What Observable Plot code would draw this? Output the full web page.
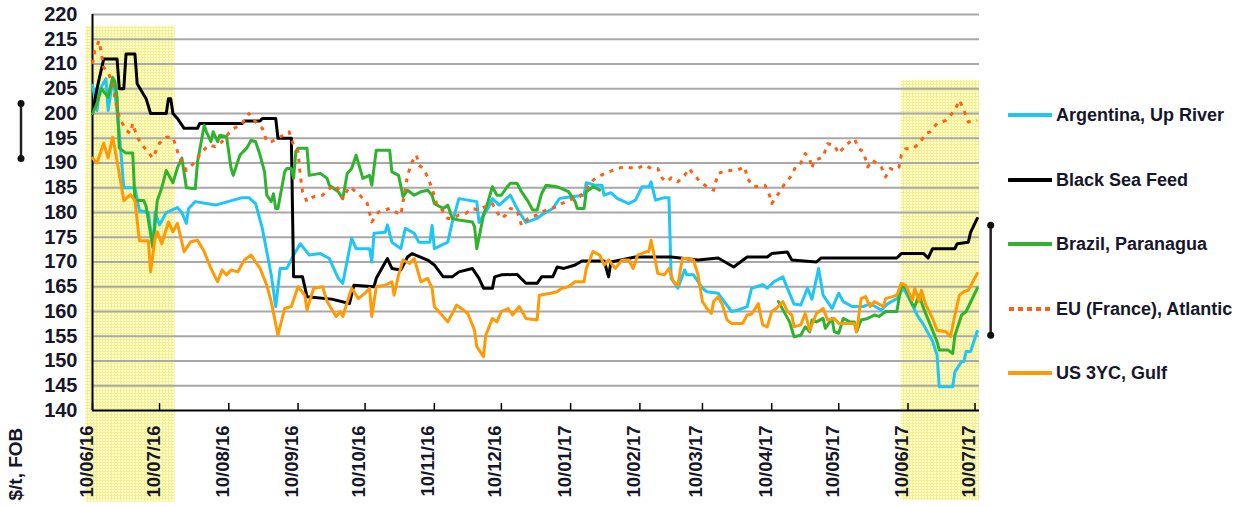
<!DOCTYPE html>
<html><head><meta charset="utf-8">
<script src="https://cdn.jsdelivr.net/npm/d3@7"></script>
<script src="https://cdn.jsdelivr.net/npm/@observablehq/plot@0.6"></script>
<style>
body{margin:0;background:#fff;font-family:"Liberation Sans",Arial,sans-serif;}
#wrap{position:relative;width:1245px;height:506px;overflow:hidden;}
.leg{position:absolute;left:1008px;height:20px;display:flex;align-items:center;font-weight:bold;font-size:18px;color:#16162a;white-space:nowrap;}
.leg svg{margin-right:4px;display:block;}
</style></head><body><div id="wrap"></div>
<script>
// ---------- DATA ----------
const seriesNames = ["Argentina, Up River","Black Sea Feed","Brazil, Paranagua","EU (France), Atlantic","US 3YC, Gulf"];
const seriesColors = ["#1ec6f5","#000000","#2fb32f","#ff5f12","#ff9a05"];
const seriesDash = [null,null,null,"4 6",null];

const argentina = [["2016-06-10",205.7],["2016-06-12",200.6],["2016-06-13",204.6],["2016-06-16",207],["2016-06-17",200.6],["2016-06-19",206.7],["2016-06-20",204.6],["2016-06-22",196],["2016-06-24",185],["2016-06-29",185],["2016-07-01",180.4],["2016-07-05",180],["2016-07-07",173],["2016-07-08",180],["2016-07-10",177.5],["2016-07-13",180],["2016-07-18",181],["2016-07-20",180],["2016-07-22",177.8],["2016-07-23",180.8],["2016-07-26",182.2],["2016-08-04",181.5],["2016-08-16",183],["2016-08-19",183],["2016-08-22",181.8],["2016-08-25",176.8],["2016-08-29",167.4],["2016-08-31",161],["2016-09-02",168.7],["2016-09-05",168.7],["2016-09-08",171.4],["2016-09-11",173.7],["2016-09-15",171.4],["2016-09-20",171.7],["2016-09-24",170.7],["2016-09-28",166.7],["2016-09-30",165.7],["2016-10-04",174.8],["2016-10-06",172.7],["2016-10-12",172.7],["2016-10-13",170],["2016-10-14",175.8],["2016-10-19",176],["2016-10-20",177.5],["2016-10-22",174],["2016-10-26",172.7],["2016-10-28",176.8],["2016-11-01",175.8],["2016-11-03",174],["2016-11-08",174],["2016-11-09",177.4],["2016-11-10",172.7],["2016-11-16",174],["2016-11-18",178],["2016-11-21",182.8],["2016-11-29",182.2],["2016-11-30",178],["2016-12-04",180.8],["2016-12-06",182.8],["2016-12-09",181.5],["2016-12-14",183.5],["2016-12-17",180.8],["2016-12-21",178],["2016-12-26",178.8],["2016-12-28",179.5],["2017-01-02",180.8],["2017-01-05",182.8],["2017-01-07",183],["2017-01-16",183.5],["2017-01-17",186],["2017-01-21",185.5],["2017-01-24",185.5],["2017-01-25",183.5],["2017-01-28",184],["2017-01-31",182.8],["2017-02-05",181.8],["2017-02-08",182.5],["2017-02-11",185.2],["2017-02-14",185.2],["2017-02-15",186.2],["2017-02-17",182.5],["2017-02-21",183],["2017-02-23",183],["2017-02-24",166.7],["2017-02-27",164.7],["2017-03-02",168.4],["2017-03-03",167.4],["2017-03-06",167.4],["2017-03-10",164.7],["2017-03-12",164],["2017-03-17",163.7],["2017-03-23",160],["2017-03-26",160.3],["2017-03-30",161],["2017-04-01",164.7],["2017-04-06",165.4],["2017-04-08",164.7],["2017-04-11",166],["2017-04-15",167],["2017-04-17",164.7],["2017-04-20",161.5],["2017-04-23",161.3],["2017-04-26",164.7],["2017-04-28",162.5],["2017-05-01",168.7],["2017-05-03",163.3],["2017-05-07",160.6],["2017-05-10",163.7],["2017-05-12",162],["2017-05-16",161],["2017-05-21",161],["2017-05-24",161.6],["2017-05-29",160.3],["2017-06-01",161.6],["2017-06-05",162.6],["2017-06-08",164.7],["2017-06-12",161.3],["2017-06-14",159.3],["2017-06-17",157.3],["2017-06-21",154],["2017-06-23",151.2],["2017-06-24",144.8],["2017-06-30",144.8],["2017-07-01",147.8],["2017-07-04",149.9],["2017-07-05",149.9],["2017-07-06",151.9],["2017-07-08",151.9],["2017-07-11",156]];

const blackSea = [["2016-06-10",200],["2016-06-12",205],["2016-06-15",211],["2016-06-21",211],["2016-06-22",205],["2016-06-24",205],["2016-06-25",212],["2016-06-29",212],["2016-06-30",206],["2016-07-04",203],["2016-07-06",200],["2016-07-13",200],["2016-07-14",203],["2016-07-15",203],["2016-07-16",200],["2016-07-18",199],["2016-07-21",197],["2016-07-27",197],["2016-07-28",198],["2016-08-16",198],["2016-08-17",198.5],["2016-08-24",198.5],["2016-08-25",199],["2016-08-31",199],["2016-09-01",195],["2016-09-07",195],["2016-09-08",167],["2016-09-12",167],["2016-09-14",163],["2016-09-25",162.5],["2016-10-03",161.6],["2016-10-05",165.3],["2016-10-14",165],["2016-10-15",166.7],["2016-10-20",170.7],["2016-10-22",168.7],["2016-10-26",168.4],["2016-10-29",171],["2016-10-31",171.7],["2016-11-07",170.4],["2016-11-10",169.4],["2016-11-14",167],["2016-11-18",167],["2016-11-21",168],["2016-11-27",168.7],["2016-11-30",166.7],["2016-12-02",164.7],["2016-12-06",164.7],["2016-12-07",167],["2016-12-10",167.4],["2016-12-17",167.5],["2016-12-21",165.7],["2016-12-26",165.7],["2016-12-28",167],["2017-01-02",167],["2017-01-04",169],["2017-01-07",168.7],["2017-01-12",169.4],["2017-01-15",170.2],["2017-01-25",170.2],["2017-01-27",167],["2017-01-28",170],["2017-02-08",171],["2017-02-24",171],["2017-03-08",170.4],["2017-03-17",170.8],["2017-03-24",169],["2017-03-27",170],["2017-03-30",171],["2017-04-08",171],["2017-04-10",171.7],["2017-04-17",172],["2017-04-19",170.4],["2017-04-30",170],["2017-05-02",170.8],["2017-06-05",170.8],["2017-06-07",171.7],["2017-06-17",171.7],["2017-06-19",170.8],["2017-06-21",172.7],["2017-07-01",172.7],["2017-07-02",173.7],["2017-07-07",174],["2017-07-08",176],["2017-07-11",178.8]];

const brazil = [["2016-06-10",200],["2016-06-12",202],["2016-06-14",205],["2016-06-17",203.3],["2016-06-19",207.3],["2016-06-20",206.5],["2016-06-21",203.3],["2016-06-22",193],["2016-06-25",192],["2016-06-28",192],["2016-06-29",182.4],["2016-07-03",182.4],["2016-07-04",181.2],["2016-07-07",173],["2016-07-09",182.4],["2016-07-11",185],["2016-07-13",188.5],["2016-07-16",186],["2016-07-18",189],["2016-07-20",191],["2016-07-22",185],["2016-07-26",184.8],["2016-07-27",190.2],["2016-07-30",197.6],["2016-07-31",196.3],["2016-08-02",194.3],["2016-08-03",196.3],["2016-08-05",194.3],["2016-08-06",195.6],["2016-08-09",195.3],["2016-08-11",189],["2016-08-12",187.5],["2016-08-15",191.6],["2016-08-18",193],["2016-08-20",194.6],["2016-08-22",194.3],["2016-08-24",191.6],["2016-08-26",188.2],["2016-08-27",183.5],["2016-08-29",182.2],["2016-08-30",183.8],["2016-08-31",180.8],["2016-09-01",180.8],["2016-09-04",188.2],["2016-09-05",188.9],["2016-09-07",188.9],["2016-09-08",186.9],["2016-09-09",192.3],["2016-09-10",193],["2016-09-14",193],["2016-09-15",187.5],["2016-09-20",187.9],["2016-09-23",186.9],["2016-09-24",185.5],["2016-09-28",184.2],["2016-09-30",182.8],["2016-10-02",187.9],["2016-10-04",188.9],["2016-10-06",191.6],["2016-10-09",186.9],["2016-10-12",187.5],["2016-10-13",185.5],["2016-10-15",192.6],["2016-10-21",192.6],["2016-10-22",188.2],["2016-10-25",187.5],["2016-10-27",183.2],["2016-10-29",184.5],["2016-11-01",183.5],["2016-11-04",184.2],["2016-11-07",184.5],["2016-11-09",183.5],["2016-11-10",181.8],["2016-11-14",180.8],["2016-11-16",181.5],["2016-11-18",178.8],["2016-11-21",178.5],["2016-11-27",178.1],["2016-11-28",177.1],["2016-11-29",172.7],["2016-12-02",179.5],["2016-12-04",182.2],["2016-12-06",185.2],["2016-12-08",183.5],["2016-12-10",183.5],["2016-12-12",184.8],["2016-12-14",185.9],["2016-12-17",185.9],["2016-12-19",184.2],["2016-12-22",182.2],["2016-12-24",180.5],["2016-12-26",180.5],["2016-12-28",183.8],["2016-12-30",185.5],["2017-01-04",185.2],["2017-01-06",184.8],["2017-01-09",184.2],["2017-01-12",182.2],["2017-01-13",180.8],["2017-01-16",180.8],["2017-01-17",184.2],["2017-01-20",185.2],["2017-01-22",184.8],["2017-01-23",184.5],["2017-01-24",null],["2017-04-13",162],["2017-04-18",157.9],["2017-04-20",154.9],["2017-04-23",155.2],["2017-04-25",156.9],["2017-04-27",155.9],["2017-04-28",158.3],["2017-04-30",157.9],["2017-05-03",158.6],["2017-05-04",156.6],["2017-05-07",158.6],["2017-05-08",155.9],["2017-05-10",155.6],["2017-05-12",158.6],["2017-05-15",157.9],["2017-05-17",157.9],["2017-05-18",155.9],["2017-05-20",158.3],["2017-05-23",158.6],["2017-05-26",159.3],["2017-05-28",159],["2017-05-31",160],["2017-06-05",160],["2017-06-07",165.3],["2017-06-09",164.7],["2017-06-12",161.3],["2017-06-13",161],["2017-06-15",163.3],["2017-06-17",160.6],["2017-06-20",157.3],["2017-06-23",153.9],["2017-06-24",152.2],["2017-06-28",152.2],["2017-06-30",151.5],["2017-07-01",155.2],["2017-07-04",159.3],["2017-07-06",160],["2017-07-11",164.7]];

const euFrance = [["2016-06-10",210],["2016-06-11",212.7],["2016-06-13",214.7],["2016-06-15",209.3],["2016-06-17",208.3],["2016-06-19",206],["2016-06-20",203.2],["2016-06-22",199.2],["2016-06-25",196.6],["2016-06-27",196],["2016-06-28",198],["2016-06-30",195.2],["2016-07-03",193.2],["2016-07-07",191],["2016-07-10",194],["2016-07-13",195.2],["2016-07-16",195.2],["2016-07-19",191],["2016-07-22",188.5],["2016-07-25",189.8],["2016-07-29",192.3],["2016-08-01",193.6],["2016-08-04",193.3],["2016-08-07",194.3],["2016-08-11",196.6],["2016-08-16",198],["2016-08-19",200],["2016-08-22",198.3],["2016-08-25",197],["2016-08-27",194.3],["2016-08-29",194.3],["2016-09-01",195],["2016-09-06",196.3],["2016-09-08",193.6],["2016-09-10",192.3],["2016-09-11",187.5],["2016-09-12",184.2],["2016-09-14",182.2],["2016-09-17",183.2],["2016-09-21",183.5],["2016-09-24",184.8],["2016-09-27",185.5],["2016-09-30",182.8],["2016-10-03",185.2],["2016-10-07",183.8],["2016-10-11",181.8],["2016-10-13",178.1],["2016-10-16",180.1],["2016-10-21",180.8],["2016-10-26",179.5],["2016-10-28",184.8],["2016-10-29",187.5],["2016-10-31",190.2],["2016-11-02",191.6],["2016-11-03",189.6],["2016-11-05",188.9],["2016-11-07",187.2],["2016-11-09",184.8],["2016-11-11",181.8],["2016-11-13",180.8],["2016-11-16",178.8],["2016-11-18",178.8],["2016-11-21",179.5],["2016-11-24",179.8],["2016-11-27",180.8],["2016-11-30",180.5],["2016-12-04",181.5],["2016-12-06",181.8],["2016-12-08",180.1],["2016-12-10",178.8],["2016-12-12",179.5],["2016-12-14",180.8],["2016-12-17",180.5],["2016-12-19",177.4],["2016-12-22",178.8],["2016-12-26",179.5],["2016-12-28",180.1],["2017-01-01",180.8],["2017-01-04",181.2],["2017-01-06",181.8],["2017-01-11",182.8],["2017-01-14",183.2],["2017-01-17",184.8],["2017-01-20",186.5],["2017-01-22",187.2],["2017-01-27",188.2],["2017-01-31",188.9],["2017-02-03",189.2],["2017-02-09",188.9],["2017-02-12",189.6],["2017-02-15",188.9],["2017-02-18",188.9],["2017-02-20",186.9],["2017-02-22",186.2],["2017-02-24",187],["2017-02-27",186.2],["2017-03-02",187.5],["2017-03-04",188.9],["2017-03-07",187.2],["2017-03-09",186.2],["2017-03-12",185.2],["2017-03-15",184.5],["2017-03-17",187.9],["2017-03-21",188.5],["2017-03-25",188.5],["2017-03-29",189.2],["2017-03-30",186.9],["2017-04-02",185.2],["2017-04-07",185.5],["2017-04-09",183.5],["2017-04-10",181.8],["2017-04-13",183.8],["2017-04-16",185.9],["2017-04-19",187.5],["2017-04-21",189.6],["2017-04-23",190],["2017-04-25",191.9],["2017-04-27",190.9],["2017-04-28",188.9],["2017-04-29",190.5],["2017-05-03",191.2],["2017-05-05",193.9],["2017-05-08",193.6],["2017-05-10",191.9],["2017-05-13",193.6],["2017-05-17",194.9],["2017-05-19",192.9],["2017-05-21",192.3],["2017-05-23",189.2],["2017-05-25",190.6],["2017-05-29",189.2],["2017-05-31",187.2],["2017-06-02",188.9],["2017-06-04",188.5],["2017-06-06",189.2],["2017-06-07",191.6],["2017-06-09",192.9],["2017-06-12",192.9],["2017-06-15",193.9],["2017-06-18",196],["2017-06-20",196.3],["2017-06-23",198],["2017-06-27",198.6],["2017-07-01",200.7],["2017-07-03",202.7],["2017-07-05",200.7],["2017-07-07",198.3],["2017-07-11",198.6]];

const usGulf = [["2016-06-10",191],["2016-06-12",190],["2016-06-15",194],["2016-06-17",191],["2016-06-19",195.2],["2016-06-20",193],["2016-06-22",187.8],["2016-06-24",182.4],["2016-06-27",183.6],["2016-06-29",182.4],["2016-07-01",174.3],["2016-07-05",174.3],["2016-07-06",168],["2016-07-08",174.8],["2016-07-09",176.1],["2016-07-11",173.7],["2016-07-14",178.1],["2016-07-16",176.1],["2016-07-18",177.8],["2016-07-21",172.1],["2016-07-24",174.1],["2016-07-27",174.4],["2016-07-30",172.1],["2016-08-02",168.7],["2016-08-05",166],["2016-08-07",168.4],["2016-08-09",167.4],["2016-08-11",168.4],["2016-08-14",168],["2016-08-17",170.4],["2016-08-20",171.4],["2016-08-22",170],["2016-08-24",168.7],["2016-08-27",165.3],["2016-08-29",162],["2016-09-01",155.2],["2016-09-04",160.6],["2016-09-07",161],["2016-09-10",165],["2016-09-13",163.3],["2016-09-14",160.3],["2016-09-17",164.7],["2016-09-21",165],["2016-09-23",162],["2016-09-27",159],["2016-09-29",160],["2016-09-30",159],["2016-10-04",164.7],["2016-10-07",162.6],["2016-10-10",163.7],["2016-10-12",164.7],["2016-10-13",159],["2016-10-15",165],["2016-10-19",165.3],["2016-10-22",166],["2016-10-23",163.3],["2016-10-25",167.4],["2016-10-27",170.4],["2016-10-30",169.7],["2016-11-01",170.7],["2016-11-04",166],["2016-11-07",166.7],["2016-11-09",164.7],["2016-11-10",161],["2016-11-12",160],["2016-11-16",157.9],["2016-11-20",161.3],["2016-11-22",160.6],["2016-11-25",159.6],["2016-11-28",156.2],["2016-11-29",152.9],["2016-12-02",150.9],["2016-12-03",155.2],["2016-12-06",158.6],["2016-12-08",157.9],["2016-12-10",160],["2016-12-13",160.6],["2016-12-15",159.3],["2016-12-18",161],["2016-12-21",158.6],["2016-12-26",158.3],["2016-12-27",163.3],["2017-01-01",163.7],["2017-01-04",164],["2017-01-06",164.7],["2017-01-09",165],["2017-01-12",166],["2017-01-16",166],["2017-01-17",168.7],["2017-01-20",172.1],["2017-01-23",171.4],["2017-01-25",169.4],["2017-01-27",170.4],["2017-01-30",168.7],["2017-02-02",170.4],["2017-02-05",170.4],["2017-02-07",168.7],["2017-02-09",171.4],["2017-02-13",172.1],["2017-02-14",172.1],["2017-02-15",174.4],["2017-02-17",170],["2017-02-18",167.7],["2017-02-21",167.4],["2017-02-23",168.7],["2017-02-25",166],["2017-02-27",165.3],["2017-03-01",170.7],["2017-03-03",170.7],["2017-03-06",170.4],["2017-03-08",167.4],["2017-03-10",162],["2017-03-12",160.6],["2017-03-14",159.6],["2017-03-15",162],["2017-03-17",163],["2017-03-19",161.3],["2017-03-21",158.3],["2017-03-23",157.6],["2017-03-28",157.6],["2017-03-30",159.3],["2017-04-01",159.5],["2017-04-04",161.6],["2017-04-05",159.3],["2017-04-06",157.3],["2017-04-08",156.9],["2017-04-10",160],["2017-04-12",160.6],["2017-04-15",162],["2017-04-17",160],["2017-04-19",159.3],["2017-04-20",156.9],["2017-04-23",157.3],["2017-04-25",159.6],["2017-04-27",156.2],["2017-04-30",159.6],["2017-05-03",160.6],["2017-05-05",158.3],["2017-05-08",158.6],["2017-05-10",157.6],["2017-05-17",157.6],["2017-05-18",155.9],["2017-05-20",162.6],["2017-05-22",163],["2017-05-24",161],["2017-05-26",162],["2017-05-30",161],["2017-05-31",162.6],["2017-06-03",163],["2017-06-05",163.3],["2017-06-07",165.7],["2017-06-09",165.3],["2017-06-12",162.3],["2017-06-13",164.7],["2017-06-15",162],["2017-06-16",164.3],["2017-06-18",161.3],["2017-06-21",158.6],["2017-06-23",156.2],["2017-06-27",155.9],["2017-06-29",154.9],["2017-07-01",159.3],["2017-07-03",163.3],["2017-07-05",164],["2017-07-07",164.3],["2017-07-09",166],["2017-07-11",167.7]];

const seriesData = [argentina, blackSea, brazil, euFrance, usGulf];

const xDomain = ["2016-06-10","2017-07-12"];
const yDomain = [140,220];
const yTicks = [140,145,150,155,160,165,170,175,180,185,190,195,200,205,210,215,220];
const xTickDates = ["2016-06-10","2016-07-10","2016-08-10","2016-09-10","2016-10-10","2016-11-10","2016-12-10","2017-01-10","2017-02-10","2017-03-10","2017-04-10","2017-05-10","2017-06-10","2017-07-10"];
const xTickLabels = ["10/06/16","10/07/16","10/08/16","10/09/16","10/10/16","10/11/16","10/12/16","10/01/17","10/02/17","10/03/17","10/04/17","10/05/17","10/06/17","10/07/17"];
const yLabel = "$/t, FOB";
// highlighted periods (date range, value range incl. area below axis)
const highlightStart = ["2016-06-07","2017-06-07"];
const highlightEnd = ["2016-07-17","2017-07-12"];
const highlightTop = [217.6,206.7];
const highlightBottom = [121.5,121.8];
// range brackets
const bracketDate = ["2016-05-09","2017-07-17"];
const bracketLow = [190.9,155.2];
const bracketHigh = [202,177.4];

// ---------- BUILD ----------
const parse = d3.utcParse("%Y-%m-%d");
const highlights = highlightStart.map((s,i)=>({start:parse(s),end:parse(highlightEnd[i]),top:highlightTop[i],bottom:highlightBottom[i]}));
const brackets = bracketDate.map((d,i)=>({date:parse(d),lo:bracketLow[i],hi:bracketHigh[i]}));
const bracketDots = brackets.flatMap(b=>[{date:b.date,v:b.lo},{date:b.date,v:b.hi}]);
const tickDates = xTickDates.map(parse);
const ink = "#16162a";

const lineMarks = seriesData.map((arr,i)=>Plot.line(arr.map(([d,v])=>({date:parse(d),value:v})),{
  x:"date", y:"value", stroke:seriesColors[i], strokeWidth:3,
  strokeDasharray: seriesDash[i] || undefined, strokeLinejoin:"round", strokeLinecap: seriesDash[i] ? "butt" : "round"
}));

const chart = Plot.plot({
  width:1245, height:506,
  marginLeft:92, marginRight:266, marginTop:14, marginBottom:96,
  x:{type:"utc", domain:xDomain.map(parse), axis:null},
  y:{domain:yDomain, axis:null},
  style:{fontFamily:"'Liberation Sans', Arial, sans-serif", background:"transparent", overflow:"visible"},
  marks:[
    Plot.rect(highlights,{x1:"start",x2:"end",y1:"bottom",y2:"top",fill:"url(#ygrid)"}),
    Plot.ruleY(yTicks.filter(t=>t>yDomain[0]),{stroke:"#a8a8a8",strokeWidth:2}),
    Plot.ruleY([yDomain[0]],{stroke:"#000",strokeWidth:2}),
    Plot.ruleX([parse(xDomain[0])],{y1:yDomain[0],y2:yDomain[1],stroke:"#000",strokeWidth:2}),
    Plot.ruleX(tickDates,{y1:yDomain[0],y2:yDomain[0]+1.4,stroke:"#000",strokeWidth:1.5}),
    Plot.text(yTicks,{frameAnchor:"left",y:d=>d,text:d=>String(d),textAnchor:"end",dx:-15,fontSize:20,fontWeight:"bold",fill:ink}),
    Plot.text(tickDates,{x:d=>d,frameAnchor:"bottom",text:(d,i)=>xTickLabels[i],rotate:-90,textAnchor:"end",dy:15,fontSize:18.5,fontWeight:"bold",fill:ink}),
    Plot.text([yLabel],{frameAnchor:"bottom-left",text:d=>d,rotate:-90,textAnchor:"start",dx:-71,dy:90,fontSize:19,fontWeight:"bold",fill:ink}),
    ...lineMarks,
    Plot.ruleX(brackets,{x:"date",y1:"lo",y2:"hi",stroke:"#222",strokeWidth:2.5}),
    Plot.dot(bracketDots,{x:"date",y:"v",r:3.5,fill:"#111",stroke:"none"})
  ]
});

// pattern for highlighted areas
const svgNS = "http://www.w3.org/2000/svg";
const defs = document.createElementNS(svgNS,"defs");
defs.innerHTML = '<pattern id="ygrid" width="3" height="3" patternUnits="userSpaceOnUse">'+
  '<rect width="3" height="3" fill="#ffffc4"/>'+
  '<path d="M0 0.5H3M0.5 0V3" stroke="#f3ee9a" stroke-width="1"/></pattern>';
chart.insertBefore(defs, chart.firstChild);

const wrap = document.getElementById("wrap");
wrap.appendChild(chart);

// legend
const legendY = [115,180,244,309,373];
seriesNames.forEach((name,i)=>{
  const div = document.createElement("div");
  div.className = "leg";
  div.style.top = (legendY[i]-10)+"px";
  div.innerHTML = `<svg width="44" height="8"><line x1="1" y1="4" x2="43" y2="4" stroke="${seriesColors[i]}" stroke-width="4" ${seriesDash[i] ? 'stroke-dasharray="5 4"' : 'stroke-linecap="round"'}/></svg><span>${name}</span>`;
  wrap.appendChild(div);
});
</script></body></html>
